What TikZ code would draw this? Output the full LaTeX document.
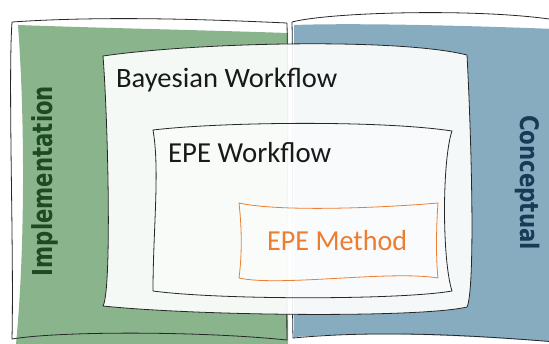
\documentclass[tikz,border=0pt]{standalone}
\usepackage{fontspec}
\usepackage{graphicx}
\setmainfont{Carlito}
\newfontfamily\sidefont{DejaVu Sans}

\definecolor{implfill}{HTML}{8AB48C}
\definecolor{implink}{HTML}{1D4A22}
\definecolor{concfill}{HTML}{87ACBF}
\definecolor{concink}{HTML}{163B55}
\definecolor{methodorange}{HTML}{ED7D31}

\begin{document}
\begin{tikzpicture}[x=1bp, y=-1bp,
  outline/.style={draw=black!85, line width=0.8bp, line join=round},
  panel/.style={fill=white, fill opacity=0.92},
  innerpanel/.style={fill=white, fill opacity=0.35},
  boxtext/.style={inner sep=0pt, anchor=base west, text=black!90,
    font=\fontsize{28bp}{32bp}\selectfont},
  sidetext/.style={inner sep=0pt, anchor=base,
    font=\sidefont\bfseries\fontsize{26.5bp}{30bp}\selectfont}]

\useasboundingbox (0,0) rectangle (549,343);
\begin{scope}
\clip (0,0) rectangle (549,343);

% green "Implementation" band
\fill[implfill] (18,25) .. controls (100,28) and (200,30) .. (288,33)
  -- (288,344) -- (16,344) .. controls (25,250) and (25,120) .. (18,25) -- cycle;
\draw[outline] (12,22) .. controls (100,16) and (200,19) .. (287,23)
  .. controls (289,120) and (286,250) .. (287,340)
  .. controls (200,331) and (60,331) .. (12,339)
  .. controls (14,250) and (8,80) .. (12,22) -- cycle;

% blue "Conceptual" band
\fill[concfill] (294,25) .. controls (350,23) and (450,25) .. (555,29)
  -- (555,342) .. controls (470,336) and (380,331) .. (294,337) -- cycle;
\draw[outline] (292,22) .. controls (330,12) and (480,8) .. (556,20)
  (292,22) .. controls (294,120) and (291,250) .. (293,338)
  .. controls (380,330) and (470,335) .. (556,342);

% Bayesian workflow panel
\path[panel] (103,56) .. controls (200,42) and (400,38) .. (467,55)
  .. controls (472,150) and (475,290) .. (467,307)
  .. controls (420,318) and (200,316) .. (103,306)
  .. controls (112,290) and (108,120) .. (103,56) -- cycle;
\draw[outline] (103,56) .. controls (200,42) and (400,38) .. (467,55)
  .. controls (472,150) and (475,290) .. (467,307)
  .. controls (420,318) and (200,316) .. (103,306)
  .. controls (112,290) and (108,120) .. (103,56) -- cycle;

% EPE workflow panel
\path[innerpanel] (153,130) .. controls (220,122) and (380,120) .. (452,131)
  .. controls (442,160) and (442,260) .. (452,291)
  .. controls (400,300) and (220,300) .. (153,291)
  .. controls (153,230) and (160,170) .. (153,130) -- cycle;
\draw[outline] (153,130) .. controls (220,122) and (380,120) .. (452,131)
  .. controls (442,160) and (442,260) .. (452,291)
  .. controls (400,300) and (220,300) .. (153,291)
  .. controls (153,230) and (160,170) .. (153,130) -- cycle;

% EPE method panel
\path[innerpanel] (239,203) .. controls (280,212) and (380,208) .. (438,203)
  .. controls (436,230) and (436,260) .. (438,278)
  .. controls (390,270) and (280,287) .. (239,278)
  .. controls (242,255) and (242,230) .. (239,203) -- cycle;
\draw[methodorange, line width=0.8bp, line join=round]
  (239,203) .. controls (280,212) and (380,208) .. (438,203)
  .. controls (436,230) and (436,260) .. (438,278)
  .. controls (390,270) and (280,287) .. (239,278)
  .. controls (242,255) and (242,230) .. (239,203) -- cycle;
\end{scope}

% labels
\node[boxtext] (bayes) at (116,87.3) {\resizebox{221bp}{\height}{Bayesian Workflow}};
\node[boxtext, font=\fontsize{29bp}{33bp}\selectfont] (epewf) at (168,162.3)
  {\resizebox{163bp}{\height}{EPE Workflow}};
\node[boxtext, text=methodorange, font=\fontsize{29bp}{33bp}\selectfont] (epem) at (267,250.7)
  {\resizebox{140bp}{\height}{EPE Method}};
\node[sidetext, rotate=90, text=implink, font=\sidefont\bfseries\fontsize{27.5bp}{30bp}\selectfont]
  (impl) at (52,181) {\resizebox{190bp}{\height}{Implementation}};
\node[sidetext, rotate=-90, text=concink, font=\sidefont\bfseries\fontsize{25.5bp}{30bp}\selectfont]
  (conc) at (520,182.5) {\resizebox{135bp}{\height}{Conceptual}};
\end{tikzpicture}
\end{document}
